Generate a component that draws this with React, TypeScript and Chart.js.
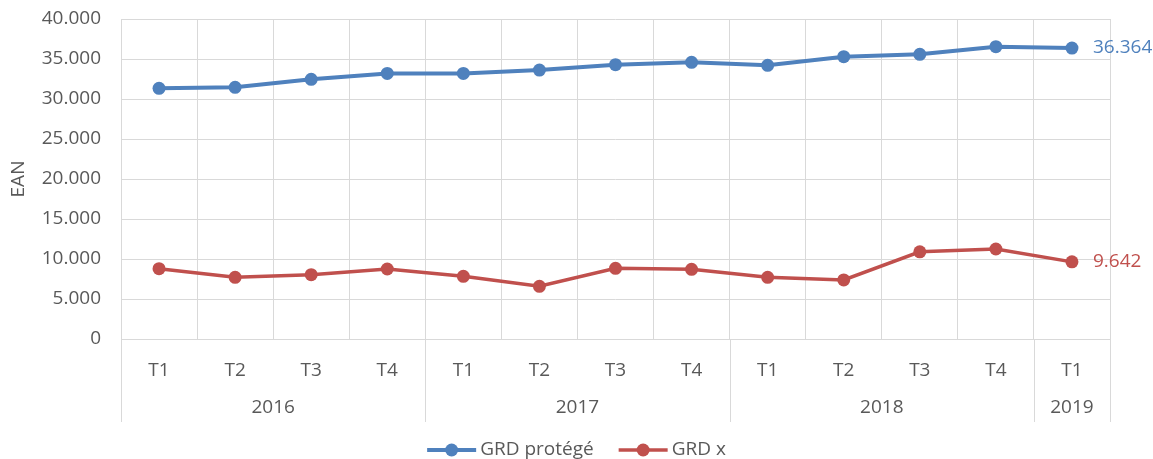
import React, { useEffect, useRef } from "react";
import { Chart, registerables } from "chart.js";

Chart.register(...registerables);

const quarters = ["T1", "T2", "T3", "T4", "T1", "T2", "T3", "T4", "T1", "T2", "T3", "T4", "T1"];
const years = ["2016", "2017", "2018", "2019"];
const yearSpans = [4, 4, 4, 1];
const seriesNames = ["GRD protégé", "GRD x"];
const grdProtege = [31330, 31460, 32460, 33200, 33200, 33620, 34290, 34590, 34210, 35290, 35580, 36540, 36364];
const grdX = [8790, 7710, 8040, 8750, 7840, 6590, 8840, 8710, 7710, 7380, 10900, 11250, 9642];
const yTicks = [0, 5000, 10000, 15000, 20000, 25000, 30000, 35000, 40000];
const yTitle = "EAN";

const BLUE = "#4F81BD";
const RED = "#C0504D";
const TEXT = "#595959";
const GRID = "#D9D9D9";
const FONT = "'Open Sans', 'Noto Sans', sans-serif";
const FONT_SIZE = 19;

const fmt = (v: number) => {
  const s = Math.round(v).toString();
  return s.replace(/\B(?=(\d{3})+(?!\d))/g, ".");
};

const overlayPlugin = {
  id: "overlay",
  afterDraw(chart: any) {
    const ctx = chart.ctx as CanvasRenderingContext2D;
    const area = chart.chartArea;
    const x = chart.scales.x;
    ctx.save();
    // year separators and labels
    ctx.strokeStyle = GRID;
    ctx.lineWidth = 1;
    const sepBottom = area.bottom + 83;
    let idx = 0;
    const colW = (area.right - area.left) / quarters.length;
    const drawSep = (px: number) => {
      ctx.beginPath();
      ctx.moveTo(Math.round(px) + 0.5, area.bottom);
      ctx.lineTo(Math.round(px) + 0.5, sepBottom);
      ctx.stroke();
    };
    drawSep(area.left);
    ctx.fillStyle = TEXT;
    ctx.font = `${FONT_SIZE}px ${FONT}`;
    ctx.textAlign = "center";
    ctx.textBaseline = "middle";
    years.forEach((yr, i) => {
      const startX = x.getPixelForValue(idx) - colW / 2;
      idx += yearSpans[i];
      const endX = x.getPixelForValue(idx - 1) + colW / 2;
      drawSep(endX);
      ctx.fillText(yr, (startX + endX) / 2, area.bottom + 69);
    });

    // y title
    ctx.save();
    ctx.translate(19, (area.top + area.bottom) / 2);
    ctx.rotate(-Math.PI / 2);
    ctx.fillText(yTitle, 0, 0);
    ctx.restore();

    // last value labels
    ctx.textAlign = "left";
    chart.data.datasets.forEach((ds: any, di: number) => {
      const meta = chart.getDatasetMeta(di);
      const last = meta.data[meta.data.length - 1];
      ctx.fillStyle = ds.borderColor;
      ctx.fillText(fmt(ds.data[ds.data.length - 1]), last.x + 21, last.y);
    });

    // legend
    const lineLen = 49;
    const gapText = 4;
    const gapItems = 25;
    const legY = 450;
    const widths = chart.data.datasets.map((ds: any) => lineLen + gapText + ctx.measureText(ds.label).width);
    const total = widths.reduce((a: number, b: number) => a + b, 0) + gapItems * (widths.length - 1);
    let lx = chart.width / 2 - total / 2;
    chart.data.datasets.forEach((ds: any, di: number) => {
      ctx.strokeStyle = ds.borderColor;
      ctx.lineWidth = ds.borderWidth;
      ctx.beginPath();
      ctx.moveTo(lx, legY);
      ctx.lineTo(lx + lineLen, legY);
      ctx.stroke();
      ctx.fillStyle = ds.borderColor;
      ctx.beginPath();
      ctx.arc(lx + lineLen / 2, legY, 6.5, 0, Math.PI * 2);
      ctx.fill();
      ctx.fillStyle = TEXT;
      ctx.fillText(ds.label, lx + lineLen + gapText, legY);
      lx += widths[di] + gapItems;
    });
    ctx.restore();
  },
};

export default function App() {
  const ref = useRef<HTMLCanvasElement>(null);
  useEffect(() => {
    if (!ref.current) return;
    const chart = new Chart(ref.current, {
      type: "line",
      data: {
        labels: quarters,
        datasets: [
          {
            label: seriesNames[0],
            data: grdProtege,
            borderColor: BLUE,
            backgroundColor: BLUE,
            borderWidth: 4,
            pointRadius: 6.5,
            pointBorderWidth: 0,
            pointBackgroundColor: BLUE,
            tension: 0,
          },
          {
            label: seriesNames[1],
            data: grdX,
            borderColor: RED,
            backgroundColor: RED,
            borderWidth: 3.5,
            pointRadius: 6.5,
            pointBorderWidth: 0,
            pointBackgroundColor: RED,
            tension: 0,
          },
        ],
      },
      options: {
        responsive: false,
        animation: false,
        layout: { padding: { top: 19, right: 43, left: 0, bottom: 0 } },
        plugins: {
          legend: { display: false },
          tooltip: { enabled: false },
          title: { display: false },
        },
        scales: {
          x: {
            type: "category",
            offset: true,
            grid: { offset: true, color: GRID, lineWidth: 1, drawTicks: false },
            border: { display: true, color: GRID, width: 1 },
            ticks: {
              color: TEXT,
              font: { family: FONT, size: FONT_SIZE },
              padding: 20,
              maxRotation: 0,
              autoSkip: false,
            },
            afterFit(scale: any) {
              scale.height = 120;
              scale.paddingLeft = 0;
              scale.paddingRight = 0;
            },
          },
          y: {
            min: 0,
            max: 40000,
            afterBuildTicks(scale: any) {
              scale.ticks = yTicks.map((v) => ({ value: v }));
            },
            grid: { color: GRID, lineWidth: 1, drawTicks: false },
            border: { display: false },
            ticks: {
              color: TEXT,
              font: { family: FONT, size: FONT_SIZE },
              padding: 20,
              callback: (v: any) => fmt(Number(v)),
            },
            afterFit(scale: any) {
              scale.width = 121;
              scale.paddingTop = 0;
              scale.paddingBottom = 0;
            },
          },
        },
      },
      plugins: [overlayPlugin],
    });
    return () => chart.destroy();
  }, []);
  return (
    <div style={{ position: "absolute", left: 0, top: 0, width: 1153, height: 459, background: "#fff" }}>
      <canvas ref={ref} width={1153} height={459} style={{ width: 1153, height: 459, display: "block" }} />
    </div>
  );
}
